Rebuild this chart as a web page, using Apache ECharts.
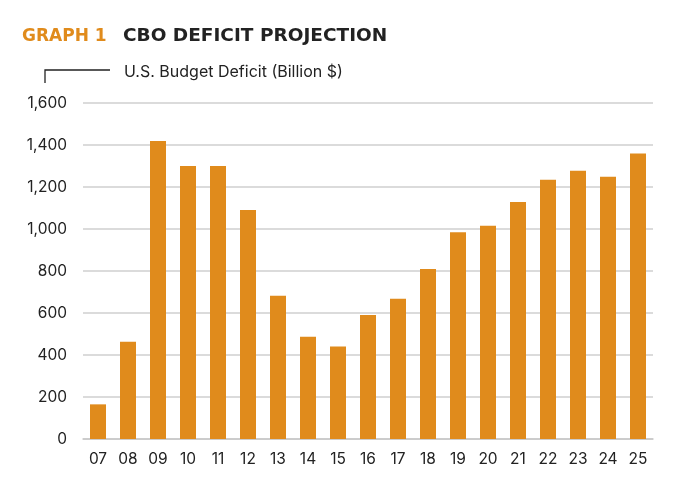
<!DOCTYPE html>
<html>
<head>
<meta charset="utf-8">
<script src="https://cdn.jsdelivr.net/npm/echarts@6/dist/echarts.min.js"></script>
<style>
  html, body { margin: 0; padding: 0; background: #fff; }
  #chart { width: 700px; height: 499px; }
</style>
</head>
<body>
<div id="chart"></div>
<script>
const years = ['07', '08', '09', '10', '11', '12', '13', '14', '15', '16', '17', '18', '19', '20', '21', '22', '23', '24', '25']
const deficit = [165, 463, 1419, 1300, 1300, 1090, 682, 487, 440, 591, 668, 809, 985, 1015, 1128, 1234, 1277, 1249, 1360]
const yTicks = { min: 0, max: 1600, interval: 200 }

const orange = '#e08b1c'
const ink = '#222222'
const font = 'Inter'
const titleFont = 'DejaVu Sans'

const chart = echarts.init(document.getElementById('chart'))
chart.setOption({
  animation: false,
  textStyle: { fontFamily: font },
  title: [{
    text: 'GRAPH 1',
    left: 17,
    top: 23,
    textStyle: { color: orange, fontSize: 17, fontWeight: 'bold', fontFamily: titleFont }
  }, {
    text: 'CBO DEFICIT PROJECTION',
    left: 118,
    top: 22,
    textStyle: { color: ink, fontSize: 18.5, fontWeight: 'bold', fontFamily: titleFont }
  }],
  graphic: [
    { // bracket above the y axis
      type: 'polyline',
      shape: { points: [[45, 83], [45, 70], [110, 70]] },
      style: { stroke: ink, lineWidth: 1.3, fill: null }
    },
    {
      type: 'text',
      left: 124,
      top: 64,
      style: { text: 'U.S. Budget Deficit (Billion $)', fill: ink, fontSize: 16, fontFamily: font }
    }
  ],
  grid: { left: 83, right: 47, top: 103, bottom: 60 },
  xAxis: {
    type: 'category',
    data: years,
    axisLine: { lineStyle: { color: '#c8c8c8', width: 1.5 } },
    axisTick: { show: false },
    axisLabel: { color: ink, fontSize: 15.5, margin: 12 }
  },
  yAxis: {
    type: 'value',
    min: yTicks.min,
    max: yTicks.max,
    interval: yTicks.interval,
    axisLine: { show: false },
    axisTick: { show: false },
    splitLine: { lineStyle: { color: '#cfcfcf', width: 1.5 } },
    axisLabel: {
      color: ink,
      fontSize: 15.5,
      margin: 16,
      formatter: v => v.toLocaleString('en-US')
    }
  },
  series: [{
    type: 'bar',
    data: deficit,
    barWidth: 16,
    itemStyle: { color: orange }
  }]
})
</script>
</body>
</html>
